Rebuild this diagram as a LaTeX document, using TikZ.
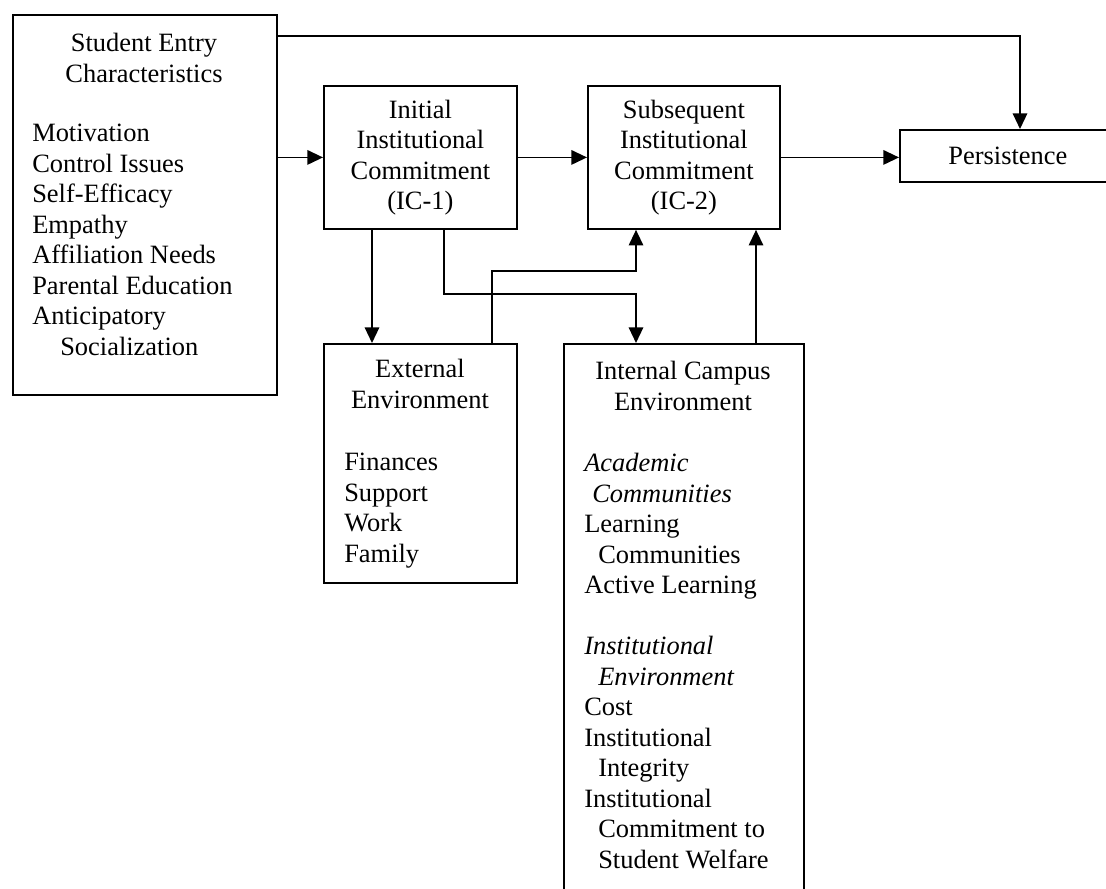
\documentclass[tikz,border=0pt]{standalone}
\usepackage{fontspec}
\setmainfont{Liberation Serif}
\usetikzlibrary{positioning,arrows.meta,calc}
\newcommand{\modelfont}{\fontsize{18.8}{21.7}\selectfont}
\newcommand{\gapline}{\\[21.7pt]}

\begin{document}
\begin{tikzpicture}[x=0.25mm,y=-0.25mm]
  \tikzset{
    modelbox/.style={
      draw=black,
      line width=1.3pt,
      rectangle,
      anchor=north west,
      inner sep=0pt,
      align=center,
      font=\modelfont
    },
    modelhead/.style={anchor=north,align=center,inner sep=0pt,font=\modelfont},
    modellist/.style={anchor=north west,align=left,inner sep=0pt,font=\modelfont},
    modelarrow/.style={
      -{Triangle[length=3.9mm,width=3.6mm]},
      draw=black,
      line width=1.3pt
    },
    modelline/.style={draw=black,line width=1.3pt}
  }

  % page frame, picture runs off the right and bottom edges
  \path[use as bounding box] (0,0) rectangle (1106,888);
  \clip (0,0) rectangle (1106,888);

  % ------------------------------------------------------------------
  % Boxes
  % ------------------------------------------------------------------
  \node[modelbox,minimum width=66mm,minimum height=95mm] (entry) at (12,14) {};
  \node[modelhead] (entryhead) at (144,33) {Student Entry\\Characteristics};
  \node[modellist] (entrylist) at (32,124)
    {Motivation\\Control Issues\\Self-Efficacy\\Empathy\\Affiliation Needs\\
     Parental Education\\Anticipatory\\\hspace*{7mm}Socialization};

  \node[modelbox,minimum width=48.25mm,minimum height=35.75mm] (icone) at (323,85)
    {Initial\\Institutional\\Commitment\\(IC-1)};
  \node[modelbox,minimum width=48mm,minimum height=35.75mm] (ictwo) at (587,85)
    {Subsequent\\Institutional\\Commitment\\(IC-2)};
  \node[modelbox,minimum width=54mm,minimum height=13mm] (persist) at (899,129)
    {Persistence};

  \node[modelbox,minimum width=48.25mm,minimum height=59.75mm] (external) at (323,343) {};
  \node[modelhead] (externalhead) at (420,359) {External\\Environment};
  \node[modellist] (externallist) at (344,453) {Finances\\Support\\Work\\Family};

  \node[modelbox,minimum width=60mm,minimum height=140mm] (internal) at (563,343) {};
  \node[modelhead] (internalhead) at (683,361) {Internal Campus\\Environment};
  \node[modellist] (internallist) at (584,453)
    {\textit{Academic}\\\hspace*{2mm}\textit{Communities}\\Learning\\
     \hspace*{3.5mm}Communities\\Active Learning\gapline
     \textit{Institutional}\\\hspace*{3.5mm}\textit{Environment}\\Cost\\
     Institutional\\\hspace*{3.5mm}Integrity\\Institutional\\
     \hspace*{3.5mm}Commitment to\\\hspace*{3.5mm}Student Welfare};

  % ------------------------------------------------------------------
  % Connectors
  % ------------------------------------------------------------------
  \coordinate (topbend) at (1020,36);
  \coordinate (tapone) at ($(icone.south west)+(49,0)$);
  \coordinate (taptwo) at ($(icone.south west)+(121,0)$);
  \coordinate (tapthree) at ($(external.north west)+(169,0)$);
  \coordinate (tapfour) at ($(internal.north west)+(193,0)$);
  \coordinate (bendone) at (636,294);
  \coordinate (bendtwo) at (636,271);

  \draw[modelarrow] (entry.east |- icone.west) -- (icone.west);
  \draw[modelarrow] (icone.east) -- (ictwo.west);
  \draw[modelarrow] (ictwo.east) -- (ictwo.east -| persist.west);
  \draw[modelarrow] (entry.east |- topbend) -- (topbend) -- (topbend |- persist.north);

  \draw[modelarrow] (tapone) -- (tapone |- external.north);
  \draw[modelarrow] (taptwo) |- (bendone) -- (bendone |- internal.north);
  \draw[modelarrow] (tapthree) |- (bendtwo) -- (bendtwo |- ictwo.south);
  \draw[modelarrow] (tapfour) -- (tapfour |- ictwo.south);
\end{tikzpicture}
\end{document}
